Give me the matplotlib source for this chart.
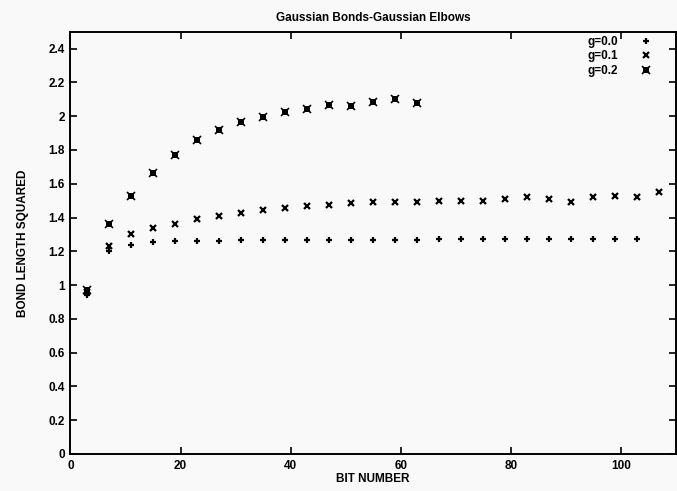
import matplotlib
matplotlib.use("Agg")
import matplotlib.pyplot as plt
from matplotlib.ticker import FuncFormatter, MultipleLocator
from matplotlib.legend_handler import HandlerTuple

# Data
bits = [3, 7, 11, 15, 19, 23, 27, 31, 35, 39, 43, 47, 51, 55, 59, 63, 67, 71,
        75, 79, 83, 87, 91, 95, 99, 103, 107]

g00 = [0.94, 1.20, 1.24, 1.254, 1.258, 1.26, 1.262, 1.264, 1.265, 1.266, 1.267,
       1.267, 1.268, 1.268, 1.269, 1.269, 1.27, 1.27, 1.27, 1.27, 1.27, 1.27,
       1.27, 1.272, 1.272, 1.271]
g01 = [0.96, 1.233, 1.300, 1.339, 1.363, 1.389, 1.410, 1.428, 1.446, 1.458,
       1.466, 1.475, 1.483, 1.491, 1.493, 1.493, 1.499, 1.499, 1.495, 1.509,
       1.523, 1.507, 1.493, 1.519, 1.527, 1.519, 1.552]
g02 = [0.97, 1.36, 1.527, 1.663, 1.773, 1.858, 1.921, 1.966, 1.996, 2.024,
       2.045, 2.069, 2.061, 2.085, 2.099, 2.077]

labels = ["g=0.0", "g=0.1", "g=0.2"]
title = "Gaussian Bonds-Gaussian Elbows"
xlabel = "BIT NUMBER"
ylabel = "BOND LENGTH SQUARED"

plt.rcParams['font.family'] = ['Liberation Sans', 'DejaVu Sans']
plt.rcParams['font.weight'] = 'bold'

bg = '#f9f9f9'
fig = plt.figure(figsize=(6.77, 4.91), dpi=100, facecolor=bg)
ax = fig.add_axes([0.104, 0.0754, 0.8945, 0.86])
ax.set_facecolor(bg)

h0, = ax.plot(bits[:len(g00)], g00, ls='none', marker='+', ms=5, mew=1.6,
              color='black')
h1, = ax.plot(bits[:len(g01)], g01, ls='none', marker='x', ms=5, mew=1.6,
              color='black')
h2a, = ax.plot(bits[:len(g02)], g02, ls='none', marker='x', ms=5.5, mew=1.2,
               color='black')
h2b, = ax.plot(bits[:len(g02)], g02, ls='none', marker='s', ms=4, mew=0,
               color='black')

ax.set_xlim(0, 110)
ax.set_ylim(0, 2.5)
ax.xaxis.set_major_locator(MultipleLocator(20))
ax.yaxis.set_major_locator(MultipleLocator(0.2))
ax.yaxis.set_major_formatter(FuncFormatter(lambda v, p: ('%g' % round(v, 2)) if v <= 2.41 else ''))
ax.xaxis.set_major_formatter(FuncFormatter(lambda v, p: ('%g' % v) if v <= 101 else ''))

ax.tick_params(direction='in', top=True, right=True, length=5, width=1.2,
               labelsize=8.5, pad=4, colors='black')
for s in ax.spines.values():
    s.set_linewidth(1.4)

ax.set_title(title, fontsize=8.5, pad=8, fontweight='bold')
ax.set_xlabel(xlabel, fontsize=8.5, labelpad=1, fontweight='bold')
ax.set_ylabel(ylabel, fontsize=8.5, labelpad=14, fontweight='bold')

leg = ax.legend([h0, h1, (h2a, h2b)], labels, loc='upper right',
                bbox_to_anchor=(652 / 677, 1 - 36 / 491),
                bbox_transform=fig.transFigure,
                markerfirst=False, frameon=False, fontsize=8.5,
                handler_map={tuple: HandlerTuple(ndivide=1)},
                handlelength=1.0, handletextpad=1.9, labelspacing=0.2,
                borderaxespad=0, borderpad=0, numpoints=1)
for t in leg.get_texts():
    t.set_ha('right')

fig.savefig('out.png', dpi=100, facecolor=bg)
